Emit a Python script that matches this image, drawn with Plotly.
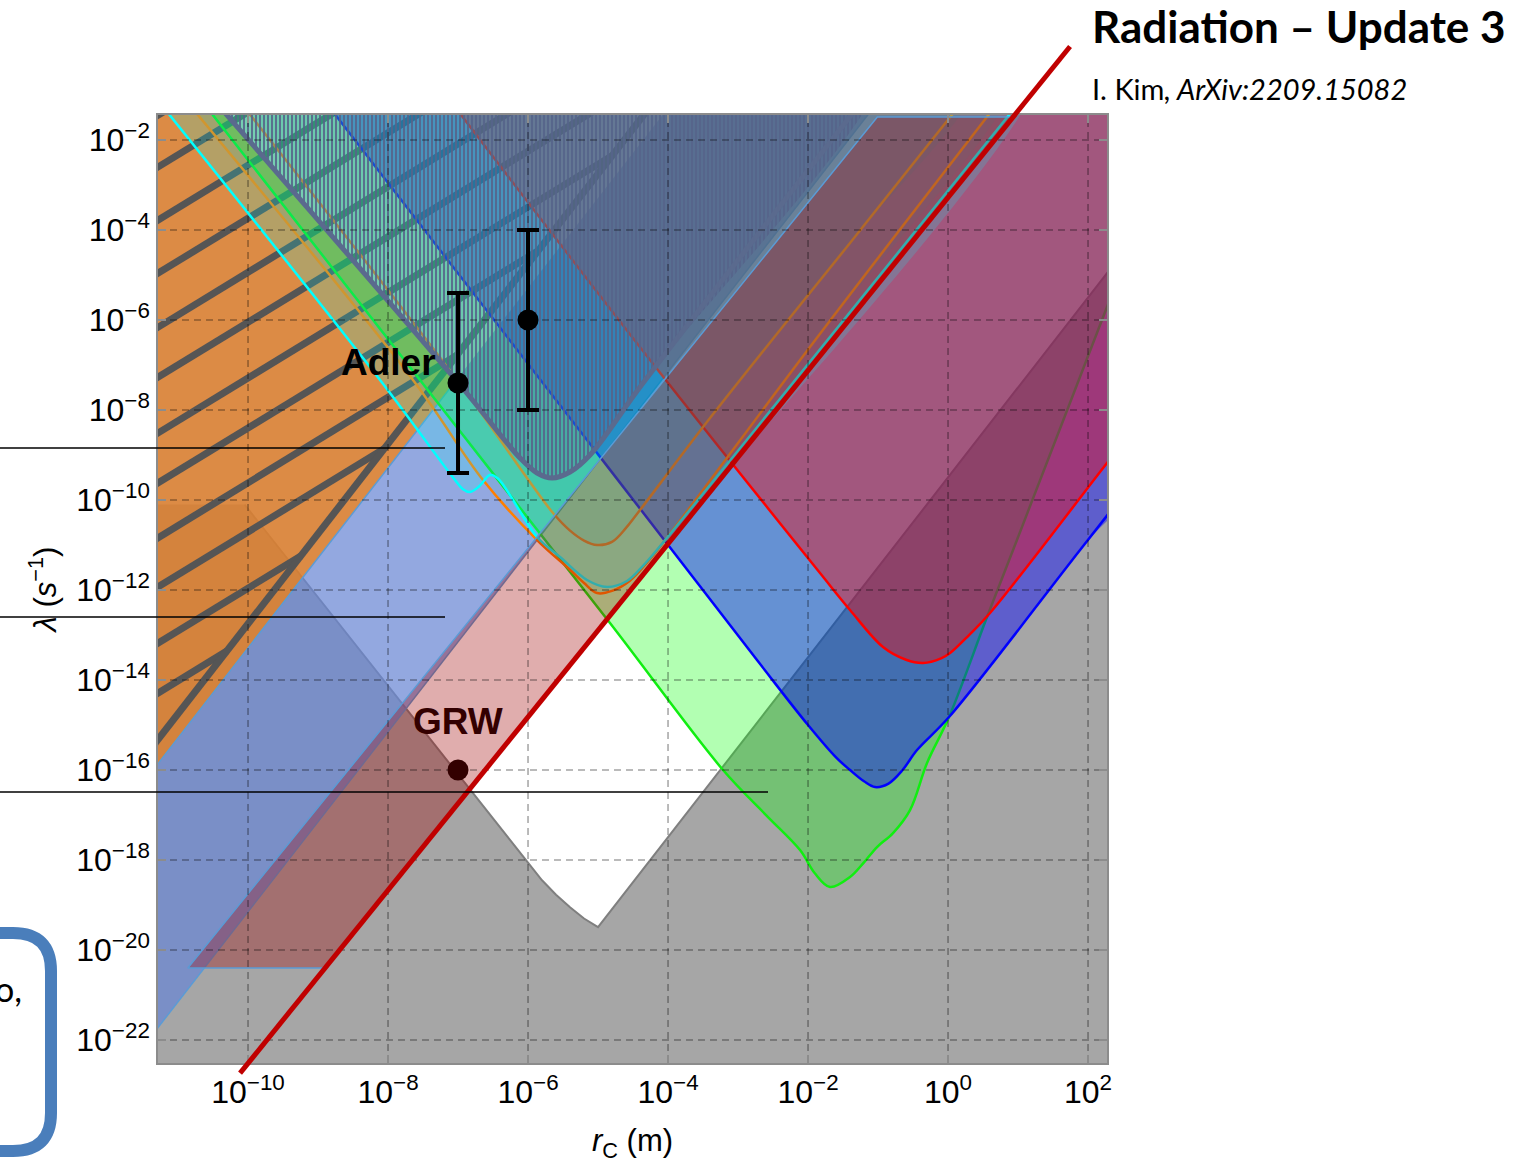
import plotly.graph_objects as go

# ------------------------------------------------------------------
# Axis ranges and ticks (log10 units)
# ------------------------------------------------------------------
X_RANGE = [-11.286, 2.271]
Y_RANGE = [-22.51, -1.444]
X_TICK_EXP = [-10, -8, -6, -4, -2, 0, 2]
Y_TICK_EXP = [-22, -20, -18, -16, -14, -12, -10, -8, -6, -4, -2]

# ------------------------------------------------------------------
# Region boundaries: log10(rC [m]) , log10(lambda [1/s])
# ------------------------------------------------------------------
gray_lx = [-12.0, -12.0, -10.05, -6.0, -5.8, -5.6, -5.4, -5.2, -5.0, 3.0, 3.0]
gray_ly = [-24.0, -10.1, -10.1, -18.07, -18.45, -18.77, -19.05, -19.3, -19.49, -3.5, -24.0]

peri_lx = [-12.0, -12.0, -0.675, -3.607]
peri_ly = [-17.286, -23.15, -0.5, -0.5]

orng_lx = [-12.0, -10.83, -10.3, -7.026, -12.0]
orng_ly = [-0.5, -0.5, -1.444, -7.338, -17.286]

hatch_b = [-1.45, -2.6, -3.78, -4.96, -6.16, -7.27, -8.51, -9.62, -10.84, -11.93, -13.18, -14.29]
hatch_slope = 0.95
steep_lx = [-12.0, -4.0]
steep_ly = [-16.75, -0.75]

cyan_lx = [-11.607, -8.114, -7.043, -6.93, -6.829, -6.7, -6.543, -6.43, -5.871, -5.543,
           -5.157, -4.871, -4.586, -4.35, -4.1, 1.36]
cyan_ly = [-0.5, -7.333, -9.556, -9.76, -9.822, -9.7, -9.444, -9.52, -10.822, -11.267,
           -11.778, -11.933, -11.8, -11.45, -11.0, -0.5]

org_lx = [-11.22, -7.643, -6.643, -5.871, -5.4, -5.2, -5.014, -4.8, -4.55, -4.25, -3.9, -3.5, -1.929, 1.047]
org_ly = [-0.5, -7.333, -9.556, -10.889, -11.55, -11.844, -12.067, -12.02, -11.8, -11.3, -10.6, -9.778, -6.511, -0.5]

gold_lx = [-10.448, -7.014, -5.643, -5.4, -5.2, -5.014, -4.8, -4.6, -4.4, -3.5, -2.4, -1.4, 0.536]
gold_ly = [-0.5, -7.333, -10.289, -10.68, -10.9, -11.0, -10.93, -10.62, -10.222, -8.378, -6.222, -4.289, -0.5]

green_lx = [-10.977, -7.543, -4.829, -3.214, -2.6, -2.114, -1.9, -1.686, -1.4, -1.2, -1.014, -0.786,
            -0.543, -0.3, 0.014, 0.557, 0.929, 2.271, 2.9]
green_ly = [-0.5, -7.333, -12.733, -16.0, -17.0, -17.778, -18.3, -18.6, -18.378, -18.05, -17.711, -17.4,
            -16.889, -15.844, -14.822, -12.6, -11.111, -5.711, -3.18]

blue_lx = [-9.22, -5.157, -2.729, -2.0, -1.6, -1.4, -1.2, -1.043, -0.85, -0.65, -0.443, 0.014, 1.886, 3.0]
blue_ly = [-0.5, -8.667, -13.556, -15.0, -15.72, -16.0, -16.25, -16.378, -16.3, -16.0, -15.556, -14.822, -11.111, -8.9]

red_lx = [-7.42, -4.257, -1.829, -1.4, -0.929, -0.6, -0.357, -0.1, 0.029, 0.3, 0.6, 2.271, 3.0]
red_ly = [-0.5, -6.889, -11.622, -12.444, -13.267, -13.55, -13.622, -13.52, -13.4, -13.0, -12.511, -9.178, -7.73]

adl_lx = [-10.83, -6.971, -6.114, -5.871, -5.657, -5.4, -5.114, -4.357, -0.907]
adl_ly = [-0.5, -7.444, -9.067, -9.4, -9.511, -9.378, -9.0, -7.4, -0.5]

band_lx = [-10.86, -8.9, 0.929, -1.01]
band_ly = [-20.4, -20.4, -1.489, -1.489]

xray_lx = [-10.114, 1.743]
xray_ly = [-22.736, 0.077]

adler_lx = [-7.0, -6.0]
adler_ly = [-7.4, -6.0]
adler_err = 2.0
grw_lx = [-7.0]
grw_ly = [-16.0]

# ------------------------------------------------------------------
W, H = 1516, 1163
ML, MR, MT, MB = 158, 409, 115, 100
PW, PH = W - ML - MR, H - MT - MB


def ex(v):
    return [None if a is None else 10 ** a for a in v]


def d2p(lx, ly):
    return ((lx - X_RANGE[0]) / (X_RANGE[1] - X_RANGE[0]),
            (ly - Y_RANGE[0]) / (Y_RANGE[1] - Y_RANGE[0]))


def px2p(x, y):
    return (x - ML) / PW, (H - MB - y) / PH


fig = go.Figure()


def poly(lx, ly, color, shape="linear", **kw):
    fig.add_trace(go.Scatter(x=ex(lx), y=ex(ly), mode="lines", fill="toself",
                             fillcolor=color, line=dict(width=0, shape=shape),
                             hoverinfo="skip", showlegend=False, **kw))


def curve(lx, ly, color, width, shape="linear", dash=None):
    fig.add_trace(go.Scatter(x=ex(lx), y=ex(ly), mode="lines",
                             line=dict(color=color, width=width, shape=shape, dash=dash),
                             hoverinfo="skip", showlegend=False))


def vregion(lx, ly, fill, line, width=2.5):
    poly(lx + [lx[-1], lx[0]], ly + [1.0, 1.0], fill, shape="spline")
    curve(lx, ly, line, width, shape="spline")


# gray theoretical region
poly(gray_lx, gray_ly, "#a6a6a6")
curve(gray_lx[2:10], gray_ly[2:10], "#7f7f7f", 2)

# periwinkle band
poly(peri_lx, peri_ly, "rgba(105,134,212,0.72)")
curve([peri_lx[1], peri_lx[2]], [peri_ly[1], peri_ly[2]], "rgb(91,155,213)", 1.5)

# orange region
poly(orng_lx, orng_ly, "rgba(216,127,51,0.91)")
curve([orng_lx[4], orng_lx[3]], [orng_ly[4], orng_ly[3]], "rgb(91,155,213)", 1.5)

# dark hatching lines of the orange region
x0 = X_RANGE[0]
hx, hy = [], []
c_steep = steep_ly[0] - 2 * steep_lx[0]
for b in hatch_b:
    xs = -11.7
    xe = (c_steep - b + hatch_slope * x0) / (hatch_slope - 2)
    hx += [xs, xe, None]
    hy += [b + hatch_slope * (xs - x0), b + hatch_slope * (xe - x0), None]
curve(hx, hy, "#555555", 7)
curve(steep_lx, steep_ly, "#555555", 7)

# Mathematica-like translucent regions
vregion(green_lx, green_ly, "rgba(0,255,0,0.30)", "#11ee11")
vregion(blue_lx, blue_ly, "rgba(0,0,255,0.43)", "#0000ff")
vregion(red_lx, red_ly, "rgba(255,0,0,0.40)", "#ff0000")
vregion(gold_lx, gold_ly, "rgba(0,160,120,0.10)", "#ff8000")
vregion(org_lx, org_ly, "rgba(0,180,180,0.10)", "#ff7f00")
vregion(cyan_lx, cyan_ly, "rgba(0,255,255,0.18)", "#00ffff")

# hatched region
fig.add_trace(go.Scatter(x=ex(adl_lx + [adl_lx[-1], adl_lx[0]]), y=ex(adl_ly + [1.0, 1.0]),
                         mode="lines", fill="toself", fillcolor="rgba(0,0,0,0)",
                         fillpattern=dict(shape="|", size=4, solidity=0.6, fgcolor="#55648a",
                                          fgopacity=0.9, bgcolor="rgba(80,95,135,0.12)"),
                         line=dict(width=0, shape="spline"), hoverinfo="skip", showlegend=False))
curve(adl_lx, adl_ly, "#5a6a8e", 5, shape="spline")

# pink band
poly(band_lx, band_ly, "rgba(160,0,0,0.32)")
curve([band_lx[2], band_lx[3], band_lx[0], band_lx[1]],
      [band_ly[2], band_ly[3], band_ly[0], band_ly[1]], "rgb(91,155,213)", 1.5)

# dashed grid lines
gx, gy = [], []
for e in X_TICK_EXP:
    gx += [e, e, None]
    gy += [Y_RANGE[0], Y_RANGE[1], None]
for e in Y_TICK_EXP:
    gx += [X_RANGE[0], X_RANGE[1], None]
    gy += [e, e, None]
curve(gx, gy, "rgba(0,0,0,0.36)", 1.5, dash="7px,5px")

# Adler points
fig.add_trace(go.Scatter(
    x=ex(adler_lx), y=ex(adler_ly), mode="markers",
    marker=dict(size=21, color="black"),
    error_y=dict(type="data", symmetric=False,
                 array=[10 ** (v + adler_err) - 10 ** v for v in adler_ly],
                 arrayminus=[10 ** v - 10 ** (v - adler_err) for v in adler_ly],
                 thickness=4, width=11, color="black"),
    hoverinfo="skip", showlegend=False))
# GRW point
fig.add_trace(go.Scatter(x=ex(grw_lx), y=ex(grw_ly), mode="markers",
                         marker=dict(size=21, color="#330000"),
                         hoverinfo="skip", showlegend=False))


def sup(e):
    return "10<sup>" + (str(e).replace("-", "\u2212")) + "</sup>"


tickfont = dict(family="Liberation Sans, Arial", size=32, color="black")
axis_common = dict(type="log", showgrid=False, zeroline=False, showline=True, mirror="ticks",
                   linecolor="#8c8c8c", linewidth=1.5, ticks="inside", ticklen=8,
                   tickwidth=1.5, tickcolor="#8c8c8c", tickfont=tickfont, layer="above traces")

fig.update_layout(
    width=W, height=H, margin=dict(l=ML, r=MR, t=MT, b=MB, autoexpand=False),
    paper_bgcolor="white", plot_bgcolor="white",
    xaxis=dict(range=X_RANGE, tickvals=[10 ** e for e in X_TICK_EXP],
               ticktext=[sup(e) for e in X_TICK_EXP],
               title=dict(text="<i>r</i><sub>C</sub> (m)", standoff=21,
                          font=dict(family="Liberation Sans, Arial", size=31, color="black")),
               **axis_common),
    yaxis=dict(range=Y_RANGE, tickvals=[10 ** e for e in Y_TICK_EXP],
               ticktext=[sup(e) for e in Y_TICK_EXP],
               title=dict(text="<i>\u03bb</i> (<i>s</i><sup>\u22121</sup>)", standoff=10,
                          font=dict(family="Liberation Sans, Arial", size=31, color="black")),
               **axis_common),
)

# ------------------------------------------------------------------
# overlays
# ------------------------------------------------------------------
shapes = []
p0 = d2p(xray_lx[0], xray_ly[0])
p1 = d2p(xray_lx[1], xray_ly[1])
shapes.append(dict(type="line", xref="paper", yref="paper", x0=p0[0], y0=p0[1], x1=p1[0], y1=p1[1],
                   line=dict(color="#c00000", width=5), layer="above"))

for (xa, xb, yy) in [(0, 445, 448), (0, 445, 617), (0, 768, 792)]:
    a = px2p(xa, yy)
    b = px2p(xb, yy)
    shapes.append(dict(type="line", xref="paper", yref="paper", x0=a[0], y0=a[1], x1=b[0], y1=b[1],
                       line=dict(color="black", width=1.6), layer="above"))

# rounded box (slide element, partly off-canvas)
rx, top, bot, r = 51, 933, 1151, 38


def P(x, y):
    a = px2p(x, y)
    return f"{a[0]:.5f},{a[1]:.5f}"


path = (f"M {P(-80, top)} L {P(rx - r, top)} Q {P(rx, top)} {P(rx, top + r)} "
        f"L {P(rx, bot - r)} Q {P(rx, bot)} {P(rx - r, bot)} L {P(-80, bot)}")
shapes.append(dict(type="path", xref="paper", yref="paper", path=path,
                   line=dict(color="#4a7ebb", width=12), layer="above"))
fig.update_layout(shapes=shapes)

ann = []
ann.append(dict(x=adler_lx[0] - 1.0, y=-6.95, xref="x", yref="y", text="<b>Adler</b>",
                showarrow=False, font=dict(family="Liberation Sans, Arial", size=37, color="black")))
ann.append(dict(x=grw_lx[0], y=-14.92, xref="x", yref="y", text="<b>GRW</b>",
                showarrow=False, font=dict(family="Liberation Sans, Arial", size=37, color="#330000")))
t = px2p(1090, 26)
ann.append(dict(x=t[0], y=t[1], xref="paper", yref="paper", xanchor="left", yanchor="middle",
                text="<b>Radiation \u2013 Update 3</b>", showarrow=False,
                font=dict(family="Lato", size=44, color="black")))
s = px2p(1090, 88)
ann.append(dict(x=s[0], y=s[1], xref="paper", yref="paper", xanchor="left", yanchor="middle",
                text="I. Kim<i>, ArXiv:2209.15082</i>", showarrow=False,
                font=dict(family="Lato", size=29, color="black")))
o = px2p(24, 988)
ann.append(dict(x=o[0], y=o[1], xref="paper", yref="paper", xanchor="right", yanchor="middle",
                text="o,", showarrow=False, font=dict(family="Lato", size=34, color="black")))
fig.update_layout(annotations=ann)

fig.write_html("out.html", config={"displayModeBar": False},
               post_script="document.body.style.margin='0px';")
